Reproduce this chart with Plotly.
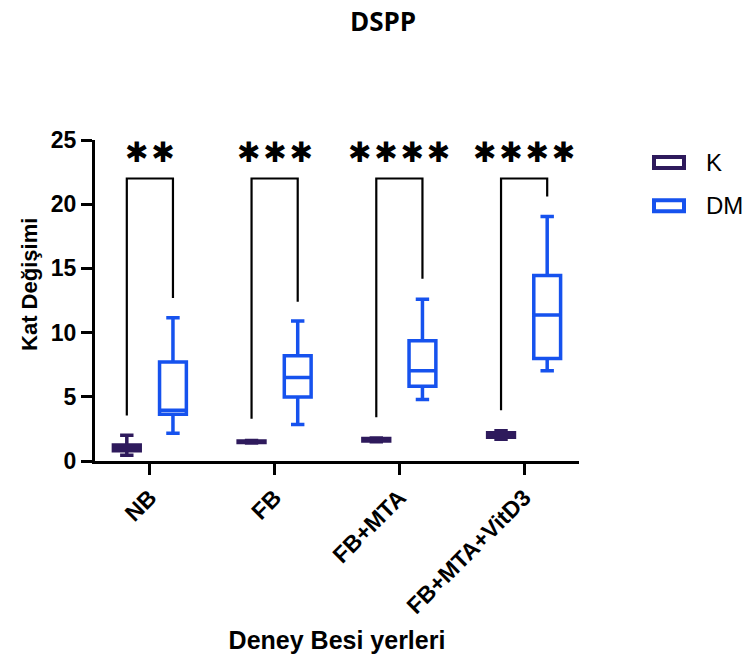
import plotly.graph_objects as go

categories = ["NB", "FB", "FB+MTA", "FB+MTA+VitD3"]
series = ["K", "DM"]

# K (control) box statistics
k_lower = [0.45, 1.40, 1.50, 1.70]
k_q1 = [0.80, 1.45, 1.55, 1.85]
k_median = [1.05, 1.50, 1.65, 2.00]
k_q3 = [1.25, 1.55, 1.75, 2.20]
k_upper = [2.00, 1.60, 1.80, 2.35]

# DM box statistics
dm_lower = [2.17, 2.85, 4.78, 7.02]
dm_q1 = [3.65, 4.98, 5.82, 7.98]
dm_median = [3.95, 6.50, 7.02, 11.37]
dm_q3 = [7.72, 8.19, 9.36, 14.44]
dm_upper = [11.15, 10.90, 12.60, 19.05]

# significance brackets
bracket_top = [22.0, 22.0, 22.0, 22.0]
bracket_left_bottom = [3.55, 3.30, 3.40, 3.95]
bracket_right_bottom = [12.70, 12.40, 14.20, 20.60]
stars = ["✱✱", "✱✱✱", "✱✱✱✱", "✱✱✱✱"]
star_y = [24.0, 24.0, 24.0, 24.0]

K_COLOR = "#2E1A5C"
DM_COLOR = "#1652EE"
colors = [K_COLOR, DM_COLOR]
OFFSET = 0.185
BOX_W = 0.215
FONT = "Liberation Sans, Arial, sans-serif"

pos = list(range(len(categories)))

fig = go.Figure()
fig.add_trace(go.Box(
    x=[p - OFFSET for p in pos], q1=k_q1, median=k_median, q3=k_q3,
    lowerfence=k_lower, upperfence=k_upper, name=series[0],
    width=BOX_W, whiskerwidth=0.5, fillcolor="white",
    line=dict(color=K_COLOR, width=3.5), showlegend=False,
))
fig.add_trace(go.Box(
    x=[p + OFFSET for p in pos], q1=dm_q1, median=dm_median, q3=dm_q3,
    lowerfence=dm_lower, upperfence=dm_upper, name=series[1],
    width=BOX_W, whiskerwidth=0.5, fillcolor="white",
    line=dict(color=DM_COLOR, width=3.5), showlegend=False,
))

bx, by = [], []
for i, p in enumerate(pos):
    bx += [p - OFFSET, p - OFFSET, p + OFFSET, p + OFFSET, None]
    by += [bracket_left_bottom[i], bracket_top[i], bracket_top[i], bracket_right_bottom[i], None]
fig.add_trace(go.Scatter(x=bx, y=by, mode="lines", line=dict(color="black", width=2.2),
                         showlegend=False, hoverinfo="skip"))

for i, p in enumerate(pos):
    fig.add_annotation(x=p, y=star_y[i], xref="x", yref="y", text="\u200a".join(stars[i]),
                       showarrow=False, font=dict(family="DejaVu Sans", size=28, color="black"))

# legend drawn as outlined rectangles + labels (paper coords, outside plot area)
L, R = 95, 579
def px_to_paper(px):
    return (px - L) / (R - L)
T, B = 140.5, 460.5
def py_to_paper(py):
    return (B - py) / (B - T)

legend_y_px = [163, 206]
for name, col, ypx in zip(series, colors, legend_y_px):
    fig.add_shape(type="rect", xref="paper", yref="paper",
                  x0=px_to_paper(654), x1=px_to_paper(684),
                  y0=py_to_paper(ypx + 5.5), y1=py_to_paper(ypx - 5.5),
                  line=dict(color=col, width=4), fillcolor="white")
    fig.add_annotation(x=px_to_paper(704), y=py_to_paper(ypx), xref="paper", yref="paper",
                       text=name, showarrow=False, xanchor="left", yanchor="middle",
                       font=dict(family=FONT, size=24, color="black"))

# y-axis title as rotated annotation (reference sits slightly above the axis centre)
fig.add_annotation(x=px_to_paper(30), y=py_to_paper(285), xref="paper", yref="paper",
                   text="<b>Kat Değişimi</b>", textangle=-90, showarrow=False,
                   xanchor="center", yanchor="middle",
                   font=dict(family=FONT, size=22, color="black"))

fig.update_layout(
    width=749, height=666,
    margin=dict(l=95, r=170, t=140, b=205),
    paper_bgcolor="white", plot_bgcolor="white",
    showlegend=False,
    title=dict(text="<b>DSPP</b>", x=383 / 749, xref="container", xanchor="center",
               y=1 - 22 / 666, yref="container", yanchor="middle",
               font=dict(family="Open Sans", size=26, color="black")),
    font=dict(family=FONT, color="black"),
)
fig.update_xaxes(
    range=[-0.44, 3.44], tickvals=pos, ticktext=[f"<b>{c}</b>" for c in categories],
    tickangle=-45, showline=True, linewidth=3, linecolor="black", ticks="outside",
    ticklen=11, tickwidth=3, tickcolor="black", showgrid=False, zeroline=False,
    tickfont=dict(family=FONT, size=23, color="black"),
    title=dict(text="<b>Deney Besi yerleri</b>", font=dict(family=FONT, size=25, color="black"), standoff=14),
)
fig.update_yaxes(
    range=[0, 25], dtick=5, showline=True, linewidth=3, linecolor="black", ticks="outside",
    ticklen=11, tickwidth=3, tickcolor="black", showgrid=False, zeroline=False,
    tickfont=dict(family=FONT, size=23, color="black"), tickprefix="<b>", ticksuffix="</b>",
)

fig.write_html("out.html")
